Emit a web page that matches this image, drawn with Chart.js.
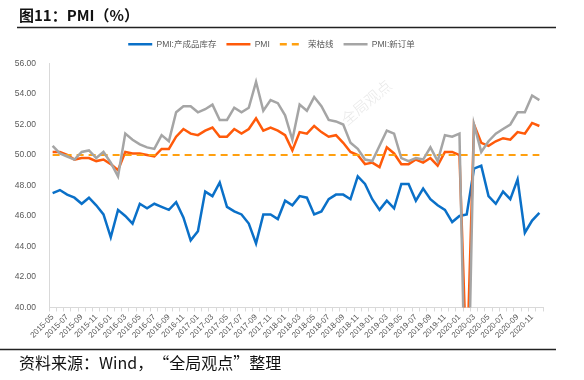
<!DOCTYPE html>
<html><head><meta charset="utf-8">
<script src="https://cdn.jsdelivr.net/npm/chart.js@4.4.1/dist/chart.umd.min.js"></script>
<style>html,body{margin:0;padding:0;background:#fff;}#wrap{width:584px;height:380px;position:relative}</style>
</head><body><div id="wrap"><canvas id="c" width="584" height="380"></canvas></div>
<script>
const months = [
 "2015-05","2015-06","2015-07","2015-08","2015-09","2015-10","2015-11","2015-12",
 "2016-01","2016-02","2016-03","2016-04","2016-05","2016-06","2016-07","2016-08","2016-09","2016-10","2016-11","2016-12",
 "2017-01","2017-02","2017-03","2017-04","2017-05","2017-06","2017-07","2017-08","2017-09","2017-10","2017-11","2017-12",
 "2018-01","2018-02","2018-03","2018-04","2018-05","2018-06","2018-07","2018-08","2018-09","2018-10","2018-11","2018-12",
 "2019-01","2019-02","2019-03","2019-04","2019-05","2019-06","2019-07","2019-08","2019-09","2019-10","2019-11","2019-12",
 "2020-01","2020-02","2020-03","2020-04","2020-05","2020-06","2020-07","2020-08","2020-09","2020-10","2020-11","2020-12"];
const inventory = [
 47.5,47.7,47.4,47.2,46.8,47.2,46.7,46.1,
 44.6,46.4,46.0,45.5,46.8,46.5,46.8,46.6,46.4,46.9,45.9,44.4,
 45.0,47.6,47.3,48.2,46.6,46.3,46.1,45.5,44.2,46.1,46.1,45.8,
 47.0,46.7,47.3,47.2,46.1,46.3,47.1,47.4,47.4,47.1,48.6,48.1,
 47.1,46.4,47.0,46.5,48.1,48.1,47.0,47.8,47.1,46.7,46.4,45.6,
 46.0,46.1,49.1,49.3,47.3,46.8,47.6,47.1,48.4,44.9,45.7,46.2];
const pmi = [
 50.2,50.2,50.0,49.7,49.8,49.8,49.6,49.7,
 49.4,49.0,50.2,50.1,50.1,50.0,49.9,50.4,50.4,51.2,51.7,51.4,
 51.3,51.6,51.8,51.2,51.2,51.7,51.4,51.7,52.4,51.6,51.8,51.6,
 51.3,50.3,51.5,51.4,51.9,51.5,51.2,51.3,50.8,50.2,50.0,49.4,
 49.5,49.2,50.5,50.1,49.4,49.4,49.7,49.5,49.8,49.3,50.2,50.2,
 50.0,35.7,52.0,50.8,50.6,50.9,51.1,51.0,51.5,51.4,52.1,51.9];
const threshold = [
 50,50,50,50,50,50,50,50,
 50,50,50,50,50,50,50,50,50,50,50,50,
 50,50,50,50,50,50,50,50,50,50,50,50,
 50,50,50,50,50,50,50,50,50,50,50,50,
 50,50,50,50,50,50,50,50,50,50,50,50,
 50,50,50,50,50,50,50,50,50,50,50,50];
const newOrders = [
 50.6,50.1,49.9,49.7,50.2,50.3,49.8,50.2,
 49.5,48.6,51.4,51.0,50.7,50.5,50.4,51.3,50.9,52.8,53.2,53.2,
 52.8,53.0,53.3,52.3,52.3,53.1,52.8,53.1,54.8,52.9,53.6,53.4,
 52.6,51.0,53.3,52.9,53.8,53.2,52.3,52.2,52.0,50.8,50.4,49.7,
 49.6,50.6,51.6,51.4,49.8,49.6,49.8,49.7,50.5,49.6,51.3,51.2,
 51.4,29.3,52.0,50.2,50.9,51.4,51.7,52.0,52.8,52.8,53.9,53.6];
const seriesNames = ["PMI:产成品库存","PMI","荣枯线","PMI:新订单"];
const yMin = 40, yMax = 56, yStep = 2;
const titleText = "图11：PMI（%）";
const footerText = "资料来源：Wind，“全局观点”整理";
const watermark = "全局观点";

const FONT = "'Liberation Sans','Noto Sans CJK SC',sans-serif";
const CJK = "'Noto Sans CJK SC','Liberation Sans',sans-serif";

const decor = {
  id:'decor',
  beforeInit(chart){
    const lg = chart.legend;
    if (lg) {
      const orig = lg.fit;
      lg.fit = function(){ orig.call(this); this.height += 5; };
    }
  },
  beforeDraw(chart){
    const ctx = chart.ctx;
    ctx.save(); ctx.fillStyle='#fff'; ctx.fillRect(0,0,chart.width,chart.height); ctx.restore();
  },
  afterDraw(chart){
    const ctx = chart.ctx;
    ctx.save();
    ctx.fillStyle = '#111';
    ctx.font = "bold 15px " + CJK;
    ctx.textBaseline = 'alphabetic';
    ctx.fillText(titleText, 19, 21);
    ctx.strokeStyle = '#222'; ctx.lineWidth = 1.5;
    ctx.beginPath(); ctx.moveTo(17, 27.5); ctx.lineTo(556, 27.5); ctx.stroke();
    ctx.beginPath(); ctx.moveTo(0, 349.5); ctx.lineTo(556, 349.5); ctx.stroke();
    ctx.font = "16px " + CJK;
    ctx.fillText(footerText, 19, 369);
    // watermark
    ctx.translate(347, 126);
    ctx.rotate(-0.7);
    ctx.fillStyle = 'rgba(205,205,205,0.45)';
    ctx.font = "300 15px " + CJK;
    ctx.fillText(watermark, 0, 0);
    ctx.restore();
  }
};

new Chart(document.getElementById('c'), {
  type:'line',
  data:{
    labels: months,
    datasets:[
      {label:seriesNames[0], data:inventory, borderColor:'#0a70c8', backgroundColor:'#0a70c8', borderWidth:2.5, pointRadius:0, tension:0, order:3},
      {label:seriesNames[1], data:pmi, borderColor:'#ff5a0a', backgroundColor:'#ff5a0a', borderWidth:2.5, pointRadius:0, tension:0, order:2},
      {label:seriesNames[2], data:threshold, borderColor:'#ffa010', backgroundColor:'#ffa010', borderWidth:2, borderDash:[7,5], pointRadius:0, tension:0, order:1},
      {label:seriesNames[3], data:newOrders, borderColor:'#a5a5a5', backgroundColor:'#a5a5a5', borderWidth:2.5, pointRadius:0, tension:0, order:0}
    ]
  },
  options:{
    responsive:false, animation:false, devicePixelRatio:1,
    layout:{padding:{top:30,left:0,right:41,bottom:39}},
    plugins:{
      tooltip:{enabled:false},
      legend:{
        position:'top', align:'center',
        labels:{
          usePointStyle:true, pointStyleWidth:24, boxHeight:8,
          padding:10, color:'#595959',
          font:{size:8.5, family:FONT},
          generateLabels(chart){
            return chart.data.datasets.map((d,i)=>({
              text:d.label, fillStyle:d.borderColor, strokeStyle:d.borderColor,
              lineWidth:2.5, lineDash:d.borderDash||[], pointStyle:'line',
              hidden:false, datasetIndex:i, fontColor:'#595959'}));
          }
        }
      }
    },
    scales:{
      x:{
        offset:true,
        grid:{display:true, offset:true, drawOnChartArea:false, drawTicks:true, tickLength:4, color:'#d9d9d9'},
        border:{display:true, color:'#d9d9d9', width:1},
        ticks:{autoSkip:false, maxRotation:45, minRotation:45, padding:1, color:'#595959',
          font:{size:8, family:FONT},
          callback:(v,i)=> i%2===0 ? months[i] : ''}
      },
      y:{
        min:yMin, max:yMax,
        afterFit(s){ s.width = 49; },
        grid:{display:false},
        border:{display:true, color:'#d9d9d9', width:1},
        ticks:{stepSize:yStep, color:'#595959', padding:5, font:{size:8.5, family:FONT},
          callback:v=>Number(v).toFixed(2)}
      }
    }
  },
  plugins:[decor]
});
</script></body></html>
